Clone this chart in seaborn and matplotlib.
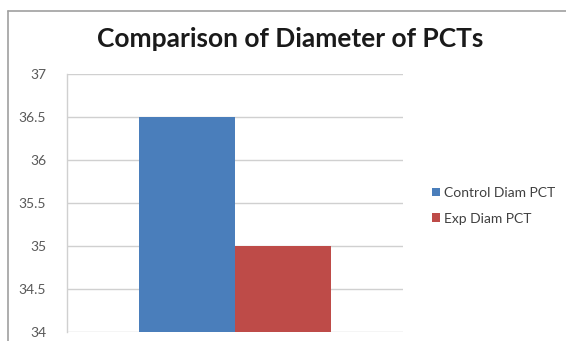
import matplotlib
matplotlib.use("Agg")
import matplotlib.pyplot as plt
from matplotlib.lines import Line2D
import seaborn as sns
import pandas as pd

# Chart data
series = ["Control Diam PCT", "Exp Diam PCT"]
values = [36.5, 35.0]
group = ["", ""]
colors = ["#4a7ebb", "#be4b48"]
yticks = [34, 34.5, 35, 35.5, 36, 36.5, 37]
ytick_labels = ["34", "34.5", "35", "35.5", "36", "36.5", "37"]

sns.set_style("white")
plt.rcParams["font.family"] = ["Lato", "DejaVu Sans"]

df = pd.DataFrame({"group": group, "series": series, "value": values})

fig = plt.figure(figsize=(5.66, 3.41), dpi=100)
ax = fig.add_axes([67 / 566, 9 / 341, 336 / 566, 258 / 341])

sns.barplot(data=df, x="group", y="value", hue="series", palette=colors,
            width=0.57, dodge=True, saturation=1, ax=ax, legend=True,
            edgecolor="none")

ax.set_xlim(-0.5, 0.5)
ax.set_ylim(34, 37)
ax.set_yticks(yticks)
ax.set_yticklabels(ytick_labels, color="#595959", fontsize=10)
ax.tick_params(axis="y", length=0, pad=15)
ax.set_xticks([])
ax.set_xlabel("")
ax.set_ylabel("")
ax.yaxis.grid(True, color="#d0d0d0", linewidth=1)
ax.set_axisbelow(True)
for side in ["top", "right", "bottom"]:
    ax.spines[side].set_visible(False)
ax.spines["left"].set_color("#d0d0d0")
ax.spines["left"].set_linewidth(1)
for lbl in ax.get_yticklabels():
    lbl.set_horizontalalignment("right")

leg = ax.legend(loc="center left", bbox_to_anchor=(1.05, 0.49), frameon=False,
                fontsize=10, handlelength=0.55, handleheight=0.55,
                handletextpad=0.3, labelspacing=1.0, labelcolor="#404040")

fig.text(290 / 566, 1 - 39 / 341, "Comparison of Diameter of PCTs",
         ha="center", va="center", fontsize=19, fontweight="bold",
         color="#1a1a1a")

# Chart area border: only the left and top edges fall inside the canvas
x0, y0 = 8 / 566, 1 - 11 / 341
fig.add_artist(Line2D([x0, x0], [0, y0], transform=fig.transFigure,
                      color="#a0a0a0", linewidth=1.2))
fig.add_artist(Line2D([x0, 1], [y0, y0], transform=fig.transFigure,
                      color="#a0a0a0", linewidth=1.2))

fig.savefig("out.png", dpi=100)
